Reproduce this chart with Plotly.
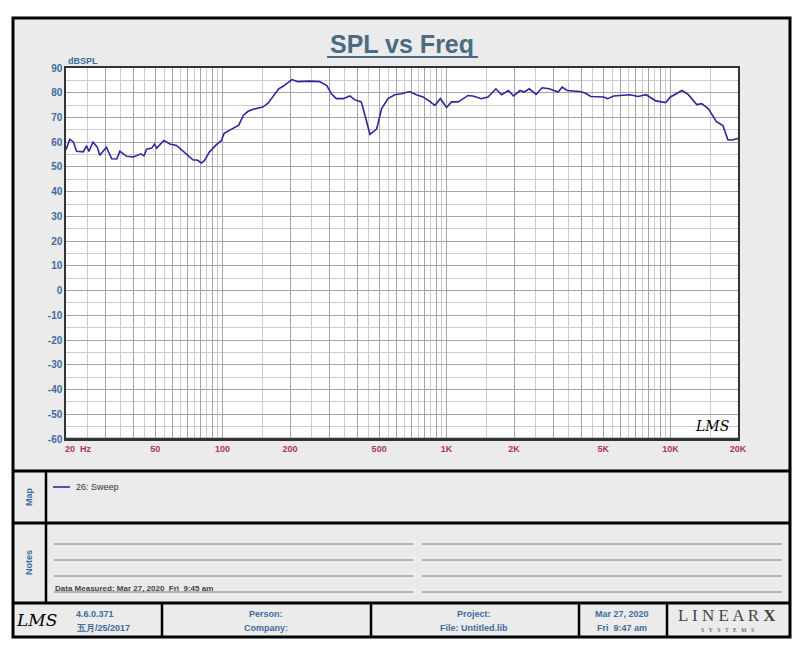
"""
SPL vs Freq sweep, redrawn as an LMS-style report sheet.
"""

import numpy as np
import plotly.graph_objects as go

# ---- data ----
freq_hz = [
    20, 20.8, 21.6, 22.3, 23.9, 24.7, 25.3, 26.4, 27.6, 28.3, 30.3, 32, 33.7, 34.8,
    37.3, 40, 43.2, 44.6, 45.8, 48.3, 49.6, 50.8, 54.7, 58.2, 62.3, 66.7, 70, 73.7,
    77.5, 80.3, 83, 87.3, 93.6, 98.5, 101.7, 111, 118, 124, 130, 137, 147, 152, 160,
    171, 178, 187, 199, 204, 216, 245, 271, 292, 306, 322, 345, 370, 388, 416, 430,
    455, 487, 513, 548, 587, 629, 685, 733, 785, 841, 886, 938, 1000, 1052, 1127,
    1247, 1311, 1430, 1531, 1660, 1760, 1890, 1990, 2130, 2220, 2340, 2510, 2670,
    2870, 3150, 3280, 3450, 3930, 4150, 4410, 5030, 5240, 5570, 6580, 7160, 7780,
    8600, 9500, 9990, 11250, 12000, 13090, 13770, 14730, 16020, 17130, 18040,
    18800, 20000,
]
spl_db = [
    57.0, 61.2, 60.0, 56.3, 56.1, 58.5, 56.3, 60.0, 58.0, 54.7, 58.0, 53.3, 53.2, 56.3,
    54.3, 54.0, 55.3, 54.5, 57.2, 57.6, 59.2, 57.6, 60.7, 59.3, 58.7, 56.3, 54.7, 52.9,
    52.7, 51.6, 52.5, 56.0, 58.9, 60.5, 63.6, 65.6, 66.9, 70.9, 72.5, 73.3, 74.0, 74.3,
    75.9, 79.2, 81.6, 82.7, 84.5, 85.3, 84.5, 84.7, 84.5, 82.9, 79.6, 77.6, 77.6, 78.7,
    77.2, 76.3, 71.6, 63.2, 65.3, 73.6, 77.6, 79.2, 79.6, 80.5, 79.2, 78.3, 76.5, 74.9,
    77.6, 74.0, 76.3, 76.3, 78.9, 78.7, 77.6, 78.3, 81.6, 79.2, 80.9, 78.7, 80.9, 80.3,
    81.6, 79.3, 82.0, 81.6, 80.3, 82.3, 80.9, 80.5, 79.9, 78.5, 78.3, 77.6, 78.7, 79.2,
    78.5, 79.2, 76.7, 76.0, 78.3, 80.9, 79.2, 75.2, 75.6, 73.6, 68.3, 66.7, 60.9, 60.9,
    61.5,
]

x_labels = {50: "50", 100: "100", 200: "200", 500: "500", 1000: "1K",
            2000: "2K", 5000: "5K", 10000: "10K", 20000: "20K"}
y_ticks = list(range(-60, 91, 10))

# grid: integer multiples darker, half steps lighter
major_x = [m * d for d in (10, 100, 1000, 10000) for m in range(1, 10)
           if 20 <= m * d <= 20000] + [20000]
minor_x = [(m + 0.5) * d for d in (10, 100, 1000, 10000) for m in range(1, 10)
           if 20 <= (m + 0.5) * d <= 20000]

BLUE = "#3e6b9e"
RED = "#b0306a"
NAVY = "#2a2a9c"
FONT = "Arial, Liberation Sans, sans-serif"

# page body margin of the html page
OFF = 8
W, H = 800 - 2 * OFF, 653 - 2 * OFF

# plot area in window pixels
PX0, PX1, PY0, PY1 = 66, 738, 68, 439


def px(x):
    return (x - PX0) / (PX1 - PX0)


def py(y):
    return (PY1 - y) / (PY1 - PY0)


fig = go.Figure()
fig.add_trace(go.Scatter(x=freq_hz, y=spl_db, mode="lines",
                         line=dict(color=NAVY, width=1.6),
                         hoverinfo="x+y"))

shapes = []


def line(x0, y0, x1, y1, color="black", width=3):
    shapes.append(dict(type="line", xref="paper", yref="paper",
                       x0=px(x0), y0=py(y0), x1=px(x1), y1=py(y1),
                       line=dict(color=color, width=width), layer="above"))


# outer frame with grey fill
shapes.append(dict(type="rect", xref="paper", yref="paper",
                   x0=px(13), y0=py(18), x1=px(790), y1=py(637),
                   fillcolor="#ebebeb", line=dict(color="black", width=3),
                   layer="below"))
shapes.append(dict(type="rect", xref="paper", yref="paper",
                   x0=0, y0=0, x1=1, y1=1, fillcolor="white",
                   line=dict(width=0), layer="below"))

# panel dividers
for yy in (471, 523, 603):
    line(13, yy, 790, yy)
line(46, 471, 46, 603, width=2.5)
for xx in (162, 371, 579, 667):
    line(xx, 603, xx, 637, width=2.5)

# notes lines
for yy in (544, 560, 576, 592):
    line(54, yy, 413, yy, color="#808080", width=1)
    line(422, yy, 782, yy, color="#808080", width=1)

# legend swatch
line(53, 487, 70, 487, color=NAVY, width=1.6)

# title underline
line(327, 57, 478, 57, color="#4b6b80", width=2)

# plot border, bottom a little heavier
line(PX0, PY1, PX1, PY1, color="#333333", width=2.5)

annotations = []


def text(x, y, s, size=9, color=BLUE, xanchor="center", angle=0, family=FONT):
    annotations.append(dict(x=px(x), y=py(y), xref="paper", yref="paper",
                            text=s, showarrow=False, xanchor=xanchor,
                            yanchor="middle", textangle=angle,
                            font=dict(family=family, size=size, color=color)))


text(402, 44, "<b>SPL vs Freq</b>", size=25, color="#4b6b80")
text(66, 61, "<b>dBSPL</b>", size=9, xanchor="left")
text(63, 449, "<b>20  Hz</b>", size=9, color=RED, xanchor="left")
text(712, 426, "<i>LMS</i>", size=14, color="black", family="DejaVu Serif")

text(29, 497, "<b>Map</b>", size=9, angle=-90)
text(29, 563, "<b>Notes</b>", size=9, angle=-90)
text(74, 487, "26: Sweep", size=9, color="#333333", xanchor="left")
text(53, 588, "<b>Data Measured: Mar 27, 2020  Fri  9:45 am</b>", size=8,
     color="#444444", xanchor="left")

text(36, 620, "<i>LMS</i>", size=17, color="black", family="DejaVu Serif")
text(74, 614, "<b>4.6.0.371</b>", xanchor="left")
text(74, 628, "<b>五月/25/2017</b>", xanchor="left")
text(266, 614, "<b>Person:</b>")
text(266, 628, "<b>Company:</b>")
text(474, 614, "<b>Project:</b>")
text(474, 628, "<b>File: Untitled.lib</b>")
text(622, 614, "<b>Mar 27, 2020</b>")
text(622, 628, "<b>Fri  9:47 am</b>")
text(727, 615, "L I N E A R <b>X</b>", size=17, color="#444444",
     family="Liberation Serif, serif")
text(727, 630, "S   Y   S   T   E   M   S", size=6, color="#444444",
     family="Liberation Serif, serif")

fig.update_layout(
    width=W, height=H,
    margin=dict(l=PX0 - OFF, r=W - (PX1 - OFF), t=PY0 - OFF, b=H - (PY1 - OFF),
                pad=0),
    paper_bgcolor="white",
    plot_bgcolor="white",
    showlegend=False,
    font=dict(family=FONT),
    shapes=shapes,
    annotations=annotations,
    xaxis=dict(
        type="log",
        range=[np.log10(20), np.log10(20000)],
        tickmode="array",
        tickvals=major_x,
        ticktext=[f"<b>{x_labels[v]}</b>" if v in x_labels else "" for v in major_x],
        tickfont=dict(size=9, color=RED),
        ticks="", ticklen=0,
        showgrid=True, gridcolor="#a4a4a4", gridwidth=1,
        minor=dict(tickmode="array", tickvals=minor_x, showgrid=True,
                   gridcolor="#cccccc", gridwidth=1, ticks=""),
        showline=True, linecolor="#333333", linewidth=1.5, mirror=True,
        zeroline=False,
    ),
    yaxis=dict(
        range=[-60, 90],
        tickmode="array",
        tickvals=y_ticks,
        ticktext=[f"<b>{v}</b>" for v in y_ticks],
        tickfont=dict(size=10, color=BLUE),
        ticks="", ticklen=0,
        showgrid=True, gridcolor="#a4a4a4", gridwidth=1,
        minor=dict(tickmode="array", tickvals=[v + 5 for v in y_ticks[:-1]],
                   showgrid=True, gridcolor="#cccccc", gridwidth=1, ticks=""),
        showline=True, linecolor="#333333", linewidth=1.5, mirror=True,
        zeroline=False,
    ),
)

fig.write_html("out.html")
